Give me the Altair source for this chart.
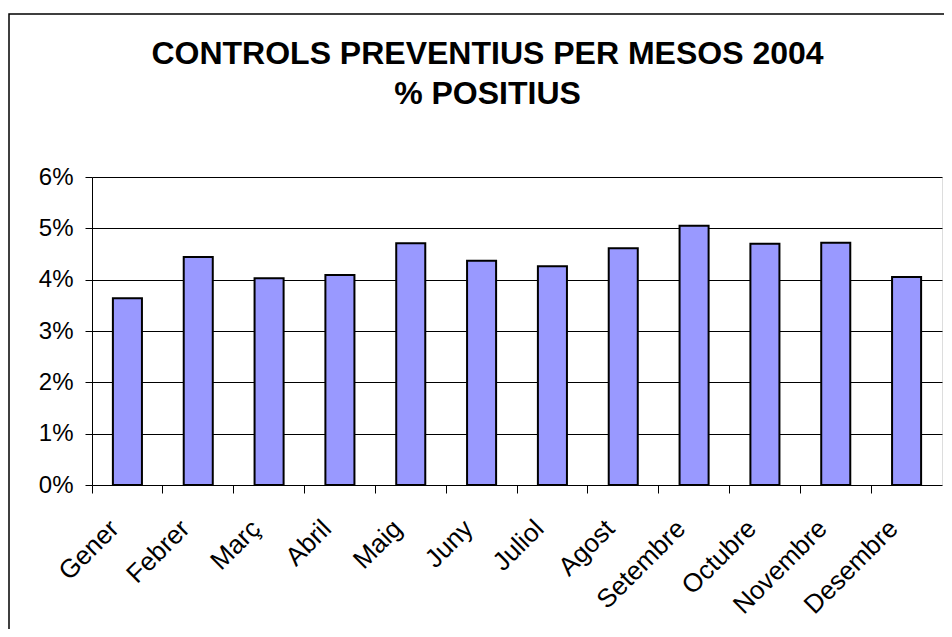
import altair as alt
import pandas as pd

months = ["Gener", "Febrer", "Març", "Abril", "Maig", "Juny", "Juliol",
          "Agost", "Setembre", "Octubre", "Novembre", "Desembre"]
positius = [0.0364, 0.0444, 0.0403, 0.0409, 0.0471, 0.0437, 0.0426,
            0.0461, 0.0505, 0.0470, 0.0472, 0.0405]
y_ticks = [0, 0.01, 0.02, 0.03, 0.04, 0.05, 0.06]
title_lines = ["CONTROLS PREVENTIUS PER MESOS 2004", "% POSITIUS"]

df = pd.DataFrame({"mes": months, "pct": positius})
tdf = pd.DataFrame({"line": title_lines, "row": [0, 1]})

FONT = "Liberation Sans"
W, H = 850, 308

x_enc = alt.X(
    "mes:N", sort=months, title=None,
    scale=alt.Scale(paddingInner=0, paddingOuter=0),
    axis=alt.Axis(
        bandPosition=0, labelOffset=-22, labelAngle=-45,
        labelAlign="right", labelBaseline="top", labelPadding=22,
        labelFont=FONT, labelFontSize=26, labelColor="black",
        tickColor="black", tickSize=8, domain=False, grid=False,
    ),
)
y_enc = alt.Y(
    "pct:Q", title=None,
    scale=alt.Scale(domain=[0, 0.06], nice=False),
    axis=alt.Axis(
        values=y_ticks, format=".0%", labelFont=FONT, labelFontSize=24,
        labelColor="black", labelPadding=12, tickColor="black", tickSize=7,
        domainColor="black", domainWidth=1, gridColor="black", gridWidth=1,
    ),
)

bars = alt.Chart(df).mark_bar(
    width=alt.RelativeBandSize(0.41), color="#9999FF", stroke="black", strokeWidth=2
).encode(x=x_enc, y=y_enc)

frame = alt.Chart(tdf).transform_filter("datum.row == 0").mark_rect(
    fill=None, stroke="black", strokeWidth=1.5
).encode(
    x=alt.value(-83), x2=alt.value(W + 40), y=alt.value(-163), y2=alt.value(H + 200)
)

title1 = alt.Chart(tdf).transform_filter("datum.row == 0").mark_text(
    font=FONT, fontSize=32, fontWeight="bold", color="black",
    align="center", baseline="alphabetic"
).encode(text="line:N", x=alt.value(395.5), y=alt.value(-113))

title2 = alt.Chart(tdf).transform_filter("datum.row == 1").mark_text(
    font=FONT, fontSize=32, fontWeight="bold", color="black",
    align="center", baseline="alphabetic"
).encode(text="line:N", x=alt.value(395.5), y=alt.value(-73))

chart = alt.layer(bars, frame, title1, title2).properties(
    width=W, height=H,
    autosize=alt.AutoSizeParams(type="none"),
    padding={"left": 84, "top": 169, "right": 2, "bottom": 144},
).configure_view(stroke="#808080", strokeWidth=2).configure(background="white")

chart.save("out.html", embed_options={"renderer": "svg", "actions": False})
